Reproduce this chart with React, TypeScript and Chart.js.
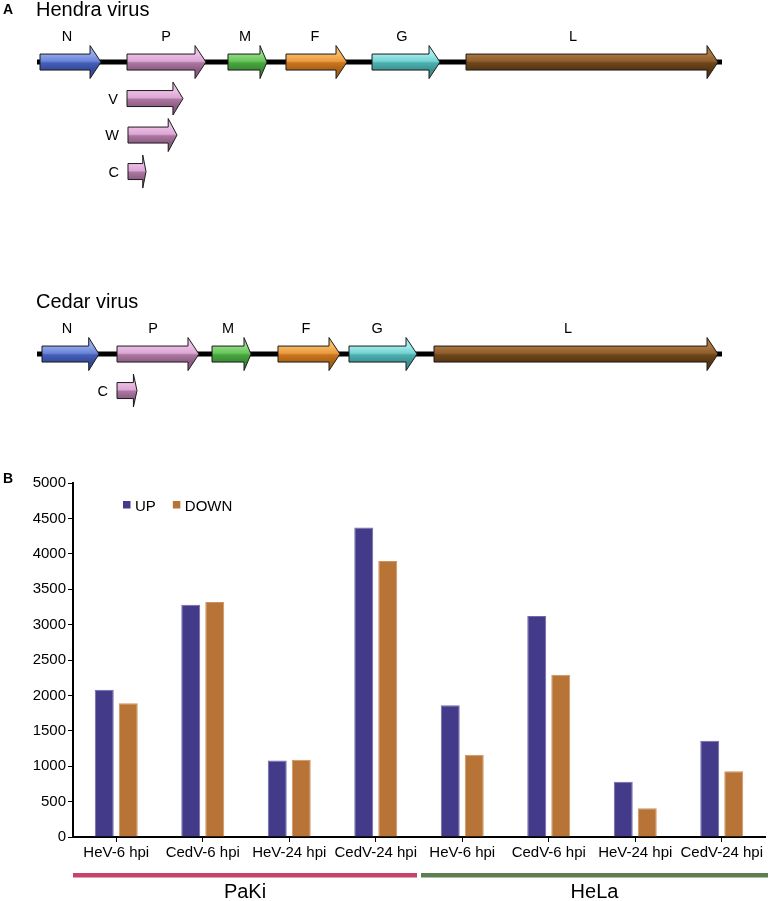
import React, { useEffect, useRef } from 'react';
import { Chart, registerables } from 'chart.js';
Chart.register(...registerables);

const FONT = '"Liberation Sans", Arial, Helvetica, sans-serif';

// ---------- Part A: genome maps (positions in nt) ----------
const GENE_NAMES = ['N', 'P', 'M', 'F', 'G', 'L'];
const GENE_COLORS = [
  ['#93a7ec', '#6a84d8', '#4560b8', '#34499a'],
  ['#edbfe7', '#dca6d4', '#aa779f', '#8d5b84'],
  ['#92dc84', '#66c459', '#48a63f', '#378a31'],
  ['#f7ba66', '#eb9a3e', '#c9771f', '#a95f14'],
  ['#a4ecec', '#74d2d2', '#4eb0b0', '#3a9292'],
  ['#ab7640', '#8f5d2c', '#6e461b', '#573511'],
];

const HENDRA_LENGTH = 18234;
const HENDRA_START = [80, 2396, 5084, 6628, 8918, 11420];
const HENDRA_END = [1704, 4499, 6123, 8252, 10728, 18128];
const HENDRA_LABEL_AT = [799, 3434, 5537, 7400, 9716, 14268];
const HENDRA_P_PRODUCTS = ['V', 'W', 'C'];
const HENDRA_P_START = [2396, 2422, 2422];
const HENDRA_P_END = [3887, 3727, 2902];
const HENDRA_TRACK = 0;
const HENDRA_P_TRACKS = [1, 2, 3];

const CEDAR_LENGTH = 18234;
const CEDAR_START = [133, 2130, 4659, 6415, 8305, 10568];
const CEDAR_END = [1650, 4312, 5697, 8066, 10116, 18128];
const CEDAR_LABEL_AT = [799, 3088, 5084, 7161, 9051, 14135];
const CEDAR_P_PRODUCTS = ['C'];
const CEDAR_P_START = [2130];
const CEDAR_P_END = [2662];
const CEDAR_TRACK = 8;
const CEDAR_P_TRACKS = [9];

const GENOMES = [
  {
    title: 'Hendra virus', length: HENDRA_LENGTH, start: HENDRA_START, end: HENDRA_END,
    labelAt: HENDRA_LABEL_AT, track: HENDRA_TRACK, pNames: HENDRA_P_PRODUCTS,
    pStart: HENDRA_P_START, pEnd: HENDRA_P_END, pTracks: HENDRA_P_TRACKS,
  },
  {
    title: 'Cedar virus', length: CEDAR_LENGTH, start: CEDAR_START, end: CEDAR_END,
    labelAt: CEDAR_LABEL_AT, track: CEDAR_TRACK, pNames: CEDAR_P_PRODUCTS,
    pStart: CEDAR_P_START, pEnd: CEDAR_P_END, pTracks: CEDAR_P_TRACKS,
  },
];

// ---------- Part B: DEG counts ----------
const CATEGORIES = [
  'HeV-6 hpi', 'CedV-6 hpi', 'HeV-24 hpi', 'CedV-24 hpi',
  'HeV-6 hpi', 'CedV-6 hpi', 'HeV-24 hpi', 'CedV-24 hpi',
];
const UP = [2080, 3280, 1080, 4370, 1860, 3120, 780, 1360];
const DOWN = [1890, 3320, 1090, 3900, 1160, 2290, 405, 930];
const CELL_LINES = ['PaKi', 'HeLa'];
const CELL_LINE_SIZE = [4, 4];
const CELL_LINE_COLORS = ['#c8436b', '#5b7f4f'];
const Y_MAX = 5000;
const Y_STEP = 500;

function drawArrow(ctx: CanvasRenderingContext2D, x1: number, x2: number, yc: number, cols: string[]) {
  const len = x2 - x1;
  const head = Math.min(11, len * 0.18);
  const bh = 8;
  const hh = 16.5;
  const hx = x2 - head;
  ctx.beginPath();
  ctx.moveTo(x1, yc - bh);
  ctx.lineTo(hx, yc - bh);
  ctx.lineTo(hx, yc - hh);
  ctx.lineTo(x2, yc);
  ctx.lineTo(hx, yc + hh);
  ctx.lineTo(hx, yc + bh);
  ctx.lineTo(x1, yc + bh);
  ctx.closePath();
  const g = ctx.createLinearGradient(0, yc - bh, 0, yc + bh);
  g.addColorStop(0, cols[0]);
  g.addColorStop(0.45, cols[1]);
  g.addColorStop(0.55, cols[2]);
  g.addColorStop(1, cols[3]);
  ctx.fillStyle = g;
  ctx.fill();
  ctx.lineWidth = 1;
  ctx.strokeStyle = '#1a1a1a';
  ctx.stroke();
}

const genomePlugin = {
  id: 'genomePlugin',
  afterDraw(chart: any) {
    const ctx: CanvasRenderingContext2D = chart.ctx;
    const xs = chart.scales.x;
    const ys = chart.scales.y;
    ctx.save();
    ctx.fillStyle = '#000';
    ctx.font = `bold 14px ${FONT}`;
    ctx.textAlign = 'left';
    ctx.textBaseline = 'alphabetic';
    ctx.fillText('A', 3, 14);
    GENOMES.forEach((gm) => {
      const y = ys.getPixelForValue(gm.track);
      ctx.fillStyle = '#000';
      ctx.font = `20px ${FONT}`;
      ctx.textAlign = 'left';
      ctx.fillText(gm.title, xs.getPixelForValue(0) - 1, y - 46);
      ctx.beginPath();
      ctx.moveTo(xs.getPixelForValue(0), y);
      ctx.lineTo(xs.getPixelForValue(gm.length), y);
      ctx.lineWidth = 5;
      ctx.strokeStyle = '#000';
      ctx.stroke();
      GENE_NAMES.forEach((name, i) => {
        drawArrow(ctx, xs.getPixelForValue(gm.start[i]), xs.getPixelForValue(gm.end[i]), y, GENE_COLORS[i]);
        ctx.fillStyle = '#000';
        ctx.font = `14.5px ${FONT}`;
        ctx.textAlign = 'center';
        ctx.fillText(name, xs.getPixelForValue(gm.labelAt[i]), y - 21);
      });
      gm.pNames.forEach((name: string, i: number) => {
        const py = ys.getPixelForValue(gm.pTracks[i]);
        const x1 = xs.getPixelForValue(gm.pStart[i]);
        drawArrow(ctx, x1, xs.getPixelForValue(gm.pEnd[i]), py, GENE_COLORS[1]);
        ctx.fillStyle = '#000';
        ctx.font = `14.5px ${FONT}`;
        ctx.textAlign = 'right';
        ctx.textBaseline = 'middle';
        ctx.fillText(name, x1 - 9, py + 1);
        ctx.textBaseline = 'alphabetic';
      });
    });
    ctx.restore();
  },
};

const barDecor = {
  id: 'barDecor',
  afterDraw(chart: any) {
    const ctx: CanvasRenderingContext2D = chart.ctx;
    const ca = chart.chartArea;
    const xs = chart.scales.x;
    ctx.save();
    ctx.fillStyle = '#000';
    ctx.font = `bold 14px ${FONT}`;
    ctx.textAlign = 'left';
    ctx.textBaseline = 'alphabetic';
    ctx.fillText('B', 3, ca.top);
    let lx = ca.left + 50;
    ctx.font = `15px ${FONT}`;
    chart.data.datasets.forEach((ds: any) => {
      ctx.fillStyle = ds.backgroundColor;
      ctx.fillRect(lx, ca.top + 18, 7.5, 7.5);
      ctx.fillStyle = '#000';
      ctx.fillText(ds.label, lx + 12, ca.top + 28);
      lx += 12 + ctx.measureText(ds.label).width + 17;
    });
    const half = (xs.getPixelForValue(1) - xs.getPixelForValue(0)) / 2;
    let s = 0;
    CELL_LINES.forEach((name, gi) => {
      const e = s + CELL_LINE_SIZE[gi] - 1;
      let x1 = xs.getPixelForValue(s) - half;
      let x2 = xs.getPixelForValue(e) + half;
      if (gi > 0) x1 += 2;
      if (gi < CELL_LINES.length - 1) x2 -= 2; else x2 += 3;
      ctx.fillStyle = CELL_LINE_COLORS[gi];
      ctx.fillRect(x1, ca.bottom + 36, x2 - x1, 4.5);
      ctx.fillStyle = '#000';
      ctx.font = `20px ${FONT}`;
      ctx.textAlign = 'center';
      ctx.fillText(name, (x1 + x2) / 2, ca.bottom + 61);
      s = e + 1;
    });
    ctx.restore();
  },
};

export default function App() {
  const refA = useRef<HTMLCanvasElement>(null);
  const refB = useRef<HTMLCanvasElement>(null);

  useEffect(() => {
    document.body.style.margin = '0';
    const chartA = new Chart(refA.current as HTMLCanvasElement, {
      type: 'scatter',
      data: { datasets: [{ data: [] }] },
      options: {
        responsive: false,
        animation: false,
        layout: { padding: { left: 37, right: 48, top: 0, bottom: 0 } },
        plugins: { legend: { display: false }, tooltip: { enabled: false } },
        scales: {
          x: { type: 'linear', min: 0, max: HENDRA_LENGTH, display: false },
          y: { type: 'linear', min: -1.7, max: 440 / 36.5 - 1.7, reverse: true, display: false },
        },
      },
      plugins: [genomePlugin],
    } as any);

    const chartB = new Chart(refB.current as HTMLCanvasElement, {
      type: 'bar',
      data: {
        labels: CATEGORIES,
        datasets: [
          { label: 'UP', data: UP, backgroundColor: '#433b8a', borderColor: '#6f69ad', borderWidth: 1, barPercentage: 0.79, categoryPercentage: 0.555 },
          { label: 'DOWN', data: DOWN, backgroundColor: '#b87436', borderColor: '#cc9260', borderWidth: 1, barPercentage: 0.79, categoryPercentage: 0.555 },
        ],
      },
      options: {
        responsive: false,
        animation: false,
        layout: { padding: { left: 0, right: 5, top: 43, bottom: 0 } },
        plugins: { legend: { display: false }, tooltip: { enabled: false } },
        scales: {
          x: {
            grid: { offset: false, drawOnChartArea: false, drawTicks: true, tickLength: 5, color: '#000', lineWidth: 1 },
            border: { display: true, color: '#000', width: 2 },
            ticks: { color: '#000', font: { family: FONT, size: 15 }, padding: 2, maxRotation: 0, autoSkip: false },
            afterFit: (s: any) => { s.height = 64; },
          },
          y: {
            min: 0, max: Y_MAX,
            grid: { drawOnChartArea: false, drawTicks: true, tickLength: 5, color: '#000', lineWidth: 1 },
            border: { display: true, color: '#000', width: 2 },
            ticks: { stepSize: Y_STEP, color: '#000', font: { family: FONT, size: 15 }, padding: 2, callback: (v: any) => String(v) },
            afterFit: (s: any) => { s.width = 73; },
          },
        },
      },
      plugins: [barDecor],
    } as any);

    return () => { chartA.destroy(); chartB.destroy(); };
  }, []);

  return (
    <div style={{ width: 770, background: '#fff' }}>
      <canvas ref={refA} width={770} height={440} style={{ display: 'block', width: 770, height: 440 }} />
      <canvas ref={refB} width={770} height={461} style={{ display: 'block', width: 770, height: 461 }} />
    </div>
  );
}
